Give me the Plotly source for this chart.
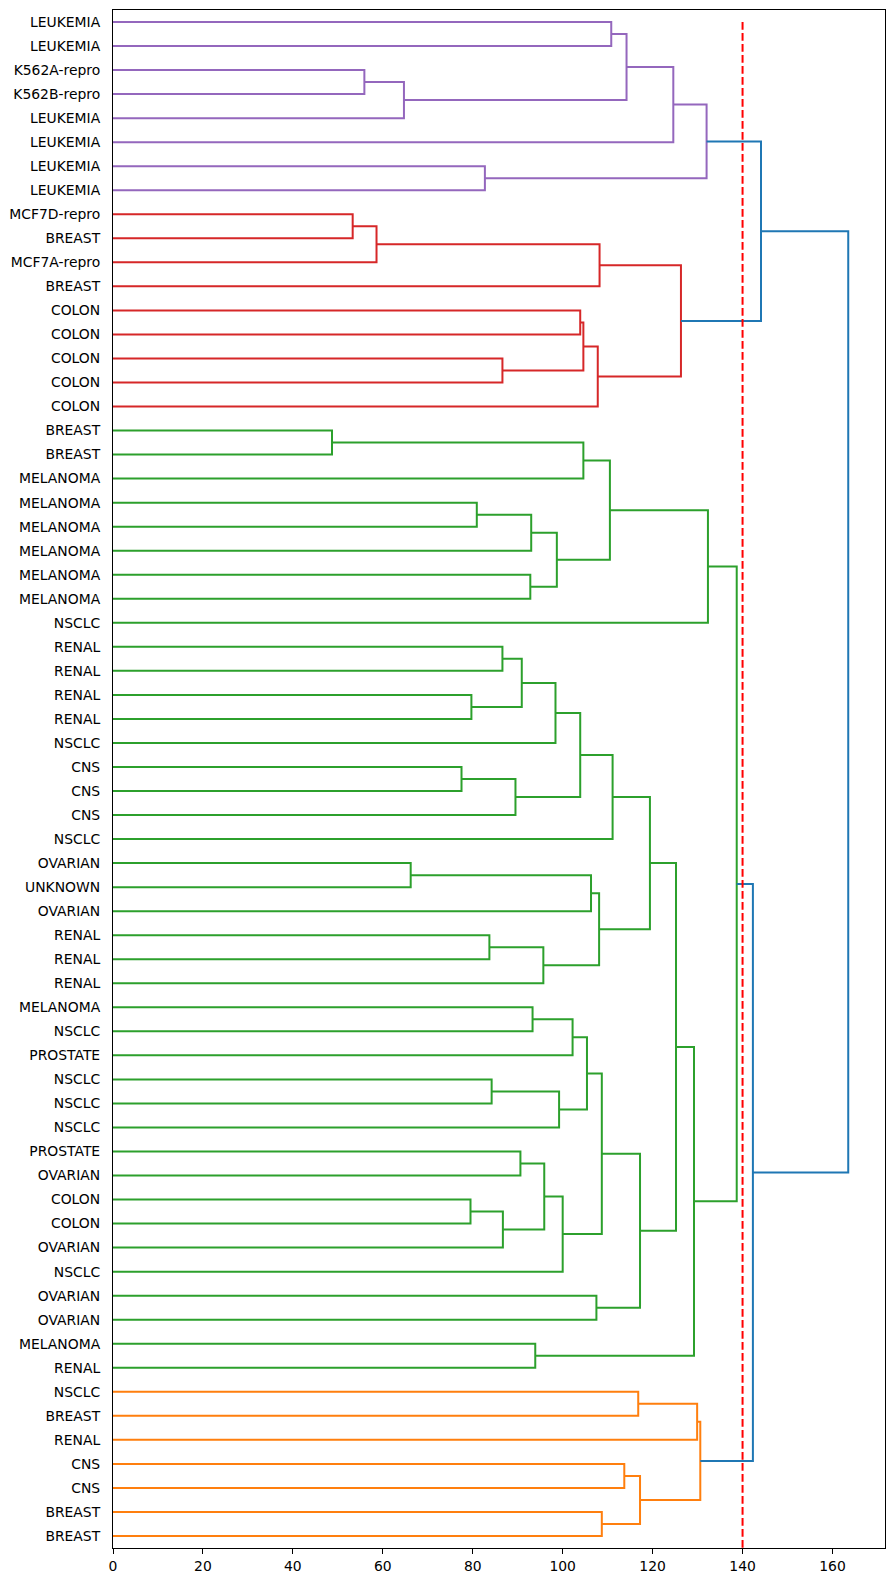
import plotly.graph_objects as go

# Leaf labels, top to bottom
labels = [
    "LEUKEMIA", "LEUKEMIA", "K562A-repro", "K562B-repro", "LEUKEMIA", "LEUKEMIA",
    "LEUKEMIA", "LEUKEMIA", "MCF7D-repro", "BREAST", "MCF7A-repro", "BREAST",
    "COLON", "COLON", "COLON", "COLON", "COLON", "BREAST", "BREAST", "MELANOMA",
    "MELANOMA", "MELANOMA", "MELANOMA", "MELANOMA", "MELANOMA", "NSCLC",
    "RENAL", "RENAL", "RENAL", "RENAL", "NSCLC", "CNS", "CNS", "CNS", "NSCLC",
    "OVARIAN", "UNKNOWN", "OVARIAN", "RENAL", "RENAL", "RENAL", "MELANOMA",
    "NSCLC", "PROSTATE", "NSCLC", "NSCLC", "NSCLC", "PROSTATE", "OVARIAN",
    "COLON", "COLON", "OVARIAN", "NSCLC", "OVARIAN", "OVARIAN", "MELANOMA",
    "RENAL", "NSCLC", "BREAST", "RENAL", "CNS", "CNS", "BREAST", "BREAST",
]

# Merges: cluster ids 0..63 are leaves, merge k creates id 64+k
merge_left = [0, 2, 65, 64, 67, 6, 68, 8, 71, 72, 12, 14, 74, 76, 73, 70,
              17, 80, 20, 82, 23, 83, 81, 86, 26, 28, 88, 90, 31, 92, 91, 94,
              35, 96, 38, 98, 97, 95, 41, 102, 44, 104, 103, 47, 49, 108, 107,
              110, 106, 53, 112, 101, 55, 115, 87, 57, 119, 60, 62, 121, 120,
              118, 79]
merge_right = [1, 3, 4, 66, 5, 7, 69, 9, 10, 11, 13, 15, 75, 16, 77, 78,
               18, 19, 21, 22, 24, 84, 85, 25, 27, 29, 89, 30, 32, 33, 93, 34,
               36, 37, 39, 40, 99, 100, 42, 43, 45, 46, 105, 48, 50, 51, 109,
               52, 111, 54, 113, 114, 56, 116, 117, 58, 59, 61, 63, 122, 123,
               124, 125]
merge_height = [110.8, 55.9, 64.7, 114.2, 124.6, 82.7, 132.0, 53.3, 58.6, 108.2,
                103.9, 86.6, 104.6, 107.8, 126.3, 144.1, 48.7, 104.6, 80.9, 93.0,
                92.8, 98.7, 110.5, 132.3, 86.6, 79.7, 90.9, 98.4, 77.5, 89.5,
                103.9, 111.1, 66.2, 106.3, 83.7, 95.7, 108.1, 119.4, 93.3, 102.2,
                84.2, 99.2, 105.4, 90.6, 79.5, 86.7, 95.9, 100.0, 108.7, 107.5,
                117.2, 125.2, 93.9, 129.2, 138.7, 116.8, 129.9, 113.7, 108.7,
                117.2, 130.6, 142.3, 163.5]

color_threshold = 140
cut_line = 140
above_color = "#1f77b4"
group_palette = ["#ff7f0e", "#2ca02c", "#d62728", "#9467bd"]
xticks = [0, 20, 40, 60, 80, 100, 120, 140, 160]

n = len(labels)
pos = {i: 5 + 10 * i for i in range(n)}
hgt = {i: 0.0 for i in range(n)}
members = {i: [i] for i in range(n)}
parent = {}
for k, (a, b, h) in enumerate(zip(merge_left, merge_right, merge_height)):
    cid = n + k
    pos[cid] = (pos[a] + pos[b]) / 2
    hgt[cid] = h
    members[cid] = members[a] + members[b]
    parent[a] = cid
    parent[b] = cid

# find sub-threshold top clusters and assign colours from the bottom up
tops = [c for c in range(n, n + len(merge_height))
        if hgt[c] < color_threshold and (c not in parent or hgt[parent[c]] >= color_threshold)]
tops.sort(key=lambda c: -max(members[c]))
top_color = {c: group_palette[i % len(group_palette)] for i, c in enumerate(tops)}


def link_color(c):
    if hgt[c] >= color_threshold:
        return above_color
    node = c
    while node not in top_color:
        node = parent[node]
    return top_color[node]


segs = {}
for k, (a, b, h) in enumerate(zip(merge_left, merge_right, merge_height)):
    cid = n + k
    col = link_color(cid)
    xs, ys = segs.setdefault(col, ([], []))
    xs += [hgt[a], h, h, hgt[b], None]
    ys += [pos[a], pos[a], pos[b], pos[b], None]

fig = go.Figure()
for col in [group_palette[3], group_palette[2], group_palette[1], group_palette[0], above_color]:
    if col in segs:
        xs, ys = segs[col]
        fig.add_trace(go.Scatter(x=xs, y=ys, mode="lines",
                                 line=dict(color=col, width=2), hoverinfo="skip",
                                 showlegend=False))

fig.add_trace(go.Scatter(x=[cut_line, cut_line], y=[pos[0], 10 * n], mode="lines",
                         line=dict(color="#ff0000", width=2, dash="7.7px,3.3px"),
                         hoverinfo="skip", showlegend=False))

xmax = max(merge_height) * 1.05
font = dict(family="DejaVu Sans", size=13.9, color="black")
fig.update_layout(
    width=879, height=1567,
    margin=dict(l=103, r=1, t=1, b=26),
    paper_bgcolor="white", plot_bgcolor="white",
    showlegend=False,
    font=font,
)
fig.update_xaxes(range=[0, xmax], tickvals=xticks, ticktext=[str(t) for t in xticks],
                 ticks="outside", ticklen=5, tickwidth=1.1, tickcolor="black",
                 showline=True, linecolor="black", linewidth=1.1, mirror=True,
                 showgrid=False, zeroline=False, tickfont=font)
fig.update_yaxes(range=[10 * n, 0], tickvals=[pos[i] for i in range(n)], ticktext=labels,
                 ticks="", ticklabelstandoff=9,
                 showline=True, linecolor="black", linewidth=1.1, mirror=True,
                 showgrid=False, zeroline=False, tickfont=font)

fig.write_html("out.html")
